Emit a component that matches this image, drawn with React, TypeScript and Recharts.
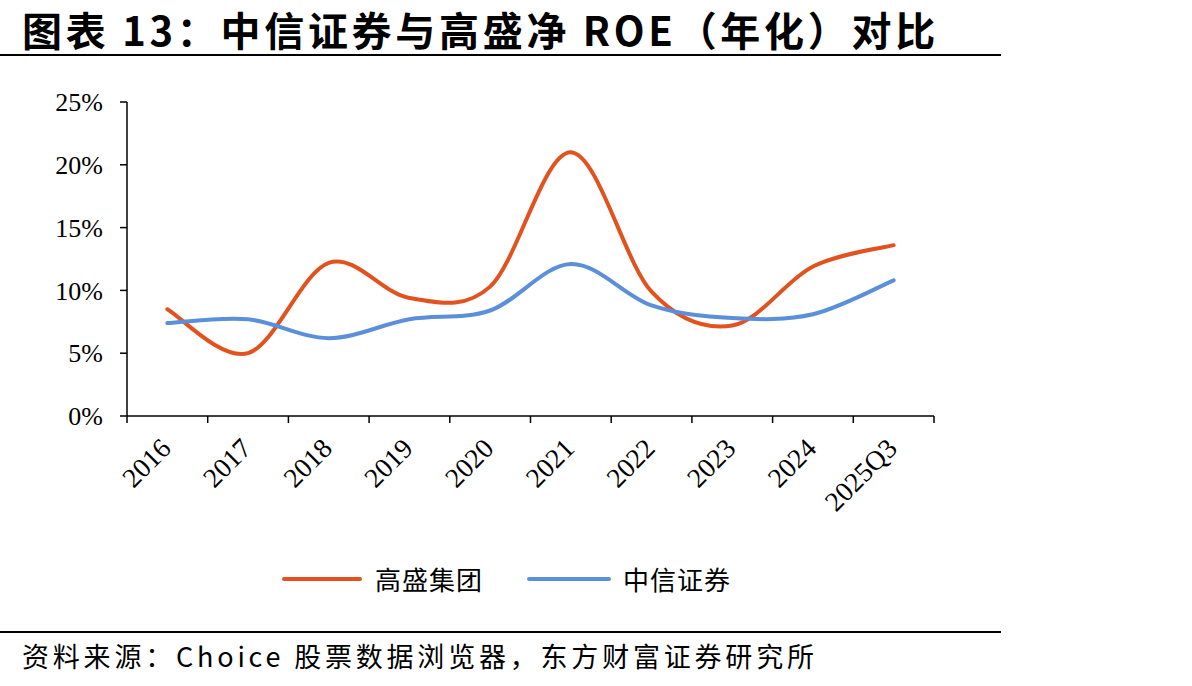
import React from "react";
import { LineChart, Line, XAxis, YAxis } from "recharts";

const categories = ["2016", "2017", "2018", "2019", "2020", "2021", "2022", "2023", "2024", "2025Q3"];
const goldman = [8.5, 5.0, 12.2, 9.4, 10.3, 21.0, 9.9, 7.2, 11.9, 13.6];
const citic = [7.4, 7.7, 6.2, 7.7, 8.4, 12.1, 8.8, 7.8, 8.1, 10.8];
const yTicks = [0, 5, 10, 15, 20, 25];
const xBounds = [0, 1, 2, 3, 4, 5, 6, 7, 8, 9, 10];

const data = categories.map((year, i) => ({
  x: i + 0.5,
  year,
  gs: goldman[i],
  citic: citic[i],
}));

const ORANGE = "#E2521F";
const BLUE = "#5A8FD9";
const PLOT_W = 807;

// Excel-style smoothed line (Catmull-Rom through points)
const excelCurve = (ctx: any) => {
  let pts: number[][] = [];
  return {
    areaStart() {},
    areaEnd() {},
    lineStart() {
      pts = [];
    },
    point(x: number, y: number) {
      pts.push([+x, +y]);
    },
    lineEnd() {
      if (!pts.length) return;
      ctx.moveTo(pts[0][0], pts[0][1]);
      for (let i = 0; i < pts.length - 1; i++) {
        const p0 = pts[i - 1] || pts[i];
        const p1 = pts[i];
        const p2 = pts[i + 1];
        const p3 = pts[i + 2] || p2;
        ctx.bezierCurveTo(
          p1[0] + (p2[0] - p0[0]) / 6,
          p1[1] + (p2[1] - p0[1]) / 6,
          p2[0] - (p3[0] - p1[0]) / 6,
          p2[1] - (p3[1] - p1[1]) / 6,
          p2[0],
          p2[1]
        );
      }
    },
  };
};

const YearTick = (props: any) => {
  const { x, y, payload } = props;
  const label = categories[payload.value];
  if (label === undefined) return null;
  const half = PLOT_W / categories.length / 2;
  return (
    <g transform={`translate(${x + half + 5},${y + 27})`}>
      <text
        textAnchor="end"
        transform="rotate(-45)"
        fontFamily="'Liberation Serif', serif"
        fontSize={27.5}
        fill="#000"
      >
        {label}
      </text>
    </g>
  );
};

export default function App() {
  return (
    <div
      style={{
        position: "absolute",
        left: 0,
        top: 0,
        width: 1192,
        height: 686,
        background: "#fff",
        overflow: "hidden",
      }}
    >
      <div
        style={{
          position: "absolute",
          left: 22,
          top: 0,
          fontFamily: "'Noto Sans CJK SC', sans-serif",
          fontWeight: 700,
          fontSize: 40,
          letterSpacing: 3.7,
          whiteSpace: "nowrap",
          color: "#000",
        }}
      >
        图表 13：中信证券与高盛净 ROE（年化）对比
      </div>
      <div style={{ position: "absolute", left: 0, top: 54, width: 1001, height: 2, background: "#000" }} />

      <div style={{ position: "absolute", left: 0, top: 0 }}>
        <LineChart
          width={1192}
          height={686}
          data={data}
          margin={{ top: 102, right: 258, left: 0, bottom: 210 }}
        >
          <XAxis
            dataKey="x"
            type="number"
            domain={[0, 10]}
            ticks={xBounds}
            interval={0}
            height={60}
            tickSize={7}
            tickMargin={0}
            tick={<YearTick />}
            stroke="#000"
            strokeWidth={1.5}
            tickLine={{ stroke: "#000", strokeWidth: 1.5 }}
          />
          <YAxis
            domain={[0, 25]}
            ticks={yTicks}
            width={127}
            tickSize={7}
            tickMargin={17}
            tickFormatter={(v: number) => `${v}%`}
            stroke="#000"
            strokeWidth={1.5}
            tick={{ fill: "#000", fontSize: 26, fontFamily: "'Liberation Serif', serif" }}
          />
          <Line
            dataKey="gs"
            name="高盛集团"
            type={excelCurve as any}
            stroke={ORANGE}
            strokeWidth={4}
            strokeLinecap="round"
            dot={false}
            activeDot={false}
            isAnimationActive={false}
          />
          <Line
            dataKey="citic"
            name="中信证券"
            type={excelCurve as any}
            stroke={BLUE}
            strokeWidth={4}
            strokeLinecap="round"
            dot={false}
            activeDot={false}
            isAnimationActive={false}
          />
        </LineChart>
      </div>

      <div
        style={{
          position: "absolute",
          left: 282,
          top: 560,
          display: "flex",
          alignItems: "center",
          fontFamily: "'Noto Sans CJK SC', sans-serif",
          fontSize: 26,
          color: "#000",
          whiteSpace: "nowrap",
        }}
      >
        <span style={{ width: 80, height: 4, background: ORANGE, borderRadius: 2, display: "inline-block" }} />
        <span style={{ marginLeft: 13, letterSpacing: 1 }}>高盛集团</span>
        <span style={{ width: 84, height: 4, background: BLUE, borderRadius: 2, display: "inline-block", marginLeft: 44 }} />
        <span style={{ marginLeft: 12, letterSpacing: 1 }}>中信证券</span>
      </div>

      <div style={{ position: "absolute", left: 0, top: 631, width: 1001, height: 2, background: "#000" }} />
      <div
        style={{
          position: "absolute",
          left: 22,
          top: 636,
          fontFamily: "'Noto Sans CJK SC', sans-serif",
          fontSize: 27,
          letterSpacing: 3.8,
          whiteSpace: "nowrap",
          color: "#000",
        }}
      >
        资料来源：Choice 股票数据浏览器，东方财富证券研究所
      </div>
    </div>
  );
}
